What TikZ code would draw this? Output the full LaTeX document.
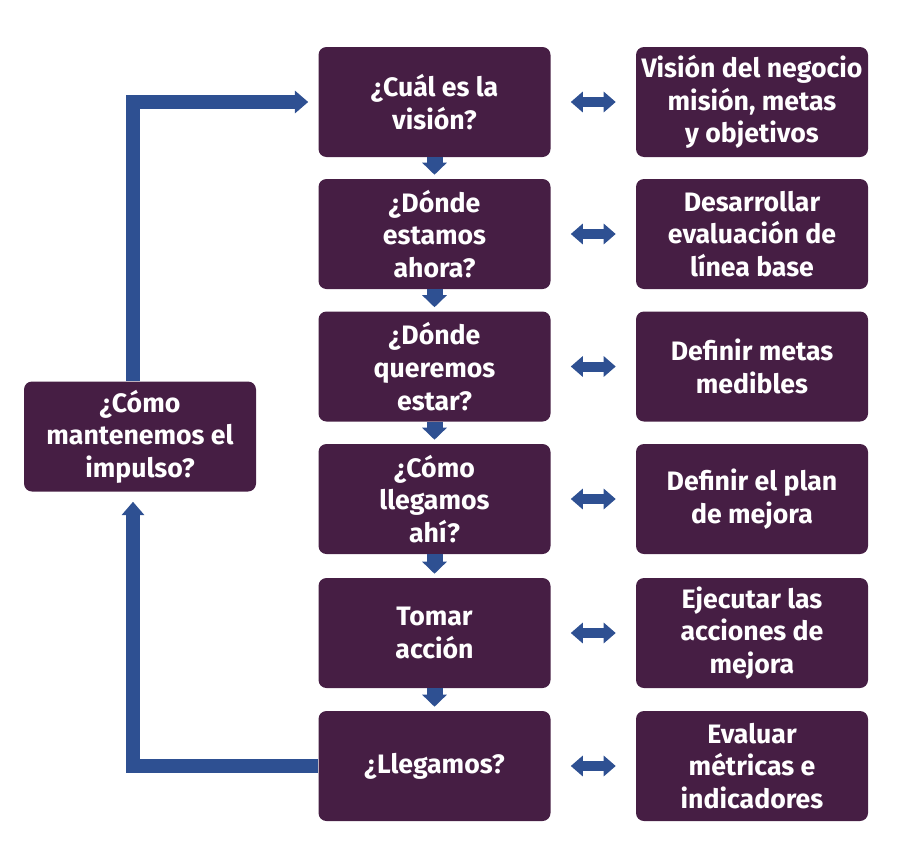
\documentclass[tikz,border=0pt]{standalone}
\usepackage{fontspec}
\setmainfont{Fira Sans}
\usetikzlibrary{arrows.meta}
\definecolor{morado}{RGB}{70,30,68}
\definecolor{azul}{RGB}{46,80,146}
\begin{document}
\begin{tikzpicture}[x=0.75pt,y=-0.75pt,line join=miter,
  pbox/.style={fill=morado,rounded corners=6pt,minimum width=174pt,minimum height=82.5pt,
    inner sep=1pt,align=center,text=white,font=\fontsize{20}{24.5}\selectfont\bfseries},
  bajar/.style={azul,line width=12pt,-{Triangle[width=18pt,length=9pt]},shorten >=3pt},
  dobles/.style={azul,line width=7.5pt,{Triangle[width=15pt,length=9pt]}-{Triangle[width=15pt,length=9pt]},shorten <=15pt,shorten >=15pt},
  lazo/.style={azul,line width=10.5pt,-{Triangle[width=16.5pt,length=10pt]},shorten >=7.5pt}]
\def\xq{434.5} \def\xr{752}
\useasboundingbox (0,0) rectangle (900,857);
% columnas
\foreach \n/\y/\q/\r in {1/102/{¿Cuál es la\\visión?}/{Visión del negocio\\misión, metas\\y objetivos},
  2/234/{¿Dónde\\estamos\\ahora?}/{Desarrollar\\evaluación de\\línea base},
  3/366.5/{¿Dónde\\queremos\\estar?}/{Definir metas\\medibles},
  4/499/{¿Cómo\\llegamos\\ahí?}/{Definir el plan\\de mejora},
  5/633/{Tomar\\acción}/{Ejecutar las\\acciones de\\mejora},
  6/766/{¿Llegamos?}/{Evaluar\\métricas e\\indicadores}}
{\node[pbox] (q\n) at (\xq,\y) {\q};
\node[pbox] (r\n) at (\xr,\y) {\r};}
\node[pbox] (lft) at (140,436.5) {¿Cómo\\mantenemos el\\impulso?};
% flechas
\foreach \a/\b in {1/2,2/3,3/4,4/5,5/6}
{\draw[bajar] (q\a) -- (q\b);}
\foreach \n in {1,...,6}
{\draw[dobles] (q\n) -- (r\n);}
\draw[lazo] ([xshift=-5.25pt]lft.north) |- (q1.west);
\draw[lazo] (q6.west) -| ([xshift=-5.25pt]lft.south);
\end{tikzpicture}
\end{document}
